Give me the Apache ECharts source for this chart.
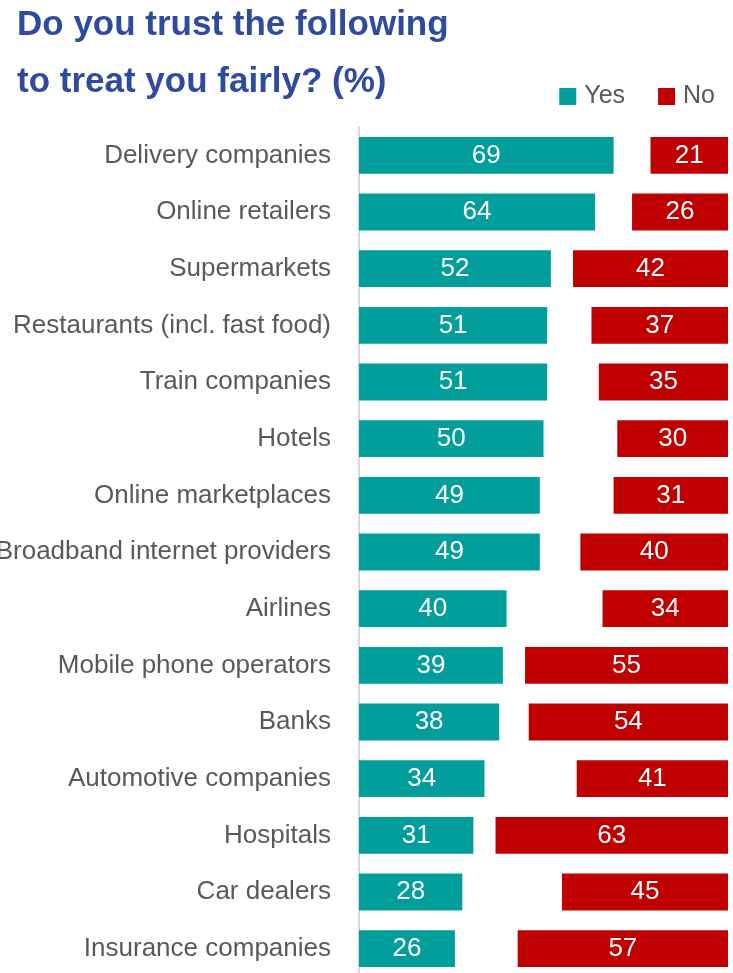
<!DOCTYPE html>
<html>
<head>
<meta charset="utf-8">
<script src="https://cdn.jsdelivr.net/npm/echarts@6/dist/echarts.min.js"></script>
<style>
  html, body { margin: 0; padding: 0; background: #fff; }
  #chart { width: 733px; height: 973px; }
</style>
</head>
<body>
<div id="chart"></div>
<script>
// 数据
const categories = [
  'Delivery companies', 'Online retailers', 'Supermarkets', 'Restaurants (incl. fast food)',
  'Train companies', 'Hotels', 'Online marketplaces', 'Broadband internet providers',
  'Airlines', 'Mobile phone operators', 'Banks', 'Automotive companies',
  'Hospitals', 'Car dealers', 'Insurance companies'
]
const yesValues = [69, 64, 52, 51, 51, 50, 49, 49, 40, 39, 38, 34, 31, 28, 26]
const noValues = [21, 26, 42, 37, 35, 30, 31, 40, 34, 55, 54, 41, 63, 45, 57]

const FONT = '"Liberation Sans", Arial, sans-serif'
const TEAL = '#029e9b'
const RED = '#c00000'

const myChart = echarts.init(document.getElementById('chart'))

const options = {
  animation: false,
  title: {
    text: 'Do you trust the following\nto treat you fairly? (%)',
    left: 12,
    top: -8,
    textStyle: {
      fontFamily: FONT,
      fontSize: 35,
      fontWeight: 'bold',
      color: '#2e4b9e',
      lineHeight: 57
    }
  },
  legend: {
    right: 13,
    top: 79,
    icon: 'rect',
    itemWidth: 17,
    itemHeight: 17,
    itemGap: 33,
    textStyle: {
      fontFamily: FONT,
      fontSize: 25,
      color: '#595959',
      padding: [0, 0, 0, 3]
    },
    data: ['Yes', 'No']
  },
  grid: {
    left: 359,
    top: 127,
    width: 369,
    height: 850,
    outerBoundsMode: 'none',
    containLabel: false
  },
  // 两个x轴：Yes从左，No从右
  xAxis: [
    { type: 'value', min: 0, max: 100, show: false },
    { type: 'value', min: 0, max: 100, inverse: true, show: false }
  ],
  yAxis: {
    type: 'category',
    inverse: true,
    data: categories,
    axisLine: { show: true, lineStyle: { color: '#d9d9d9', width: 2 } },
    axisTick: { show: false },
    splitLine: { show: false },
    axisLabel: {
      margin: 28,
      fontFamily: FONT,
      fontSize: 26,
      color: '#595959'
    }
  },
  series: [
    {
      name: 'Yes',
      type: 'bar',
      xAxisIndex: 0,
      data: yesValues,
      barWidth: '65%',
      barGap: '-100%',
      itemStyle: { color: TEAL },
      label: {
        show: true,
        position: 'inside',
        color: '#fff',
        fontFamily: FONT,
        fontSize: 26
      }
    },
    {
      name: 'No',
      type: 'bar',
      xAxisIndex: 1,
      data: noValues,
      barWidth: '65%',
      barGap: '-100%',
      itemStyle: { color: RED },
      label: {
        show: true,
        position: 'inside',
        color: '#fff',
        fontFamily: FONT,
        fontSize: 26
      }
    }
  ]
}

myChart.setOption(options)
</script>
</body>
</html>
